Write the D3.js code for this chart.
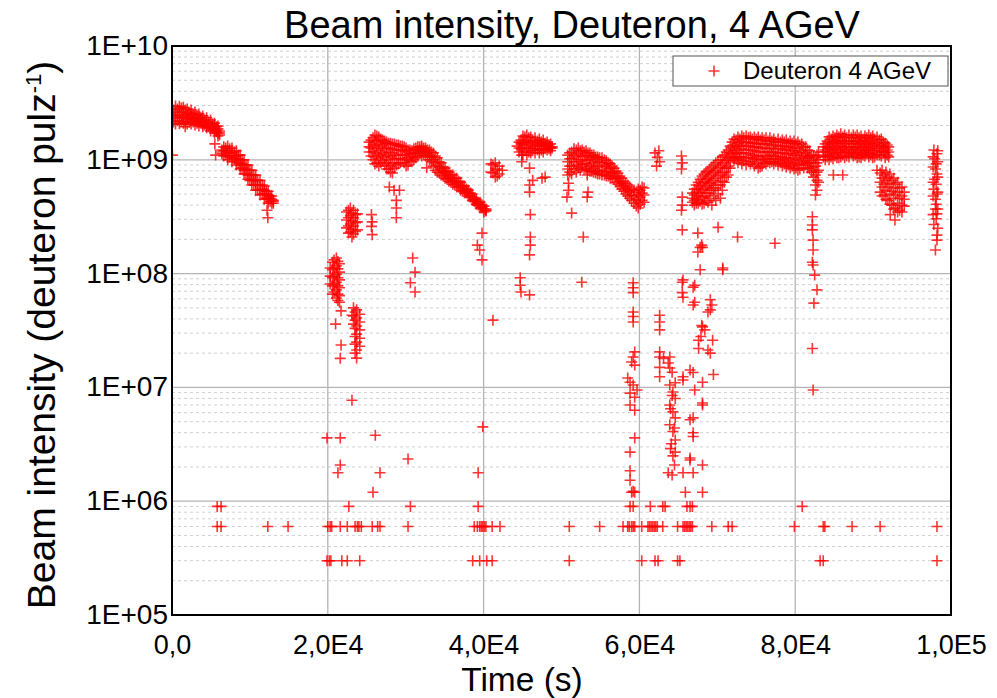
<!DOCTYPE html>
<html>
<head>
<meta charset="utf-8">
<script src="https://cdn.jsdelivr.net/npm/d3@7"></script>
<style>
  body { margin: 0; background: #fff; }
  text { font-family: "Liberation Sans", Arial, sans-serif; fill: #000; }
</style>
</head>
<body>
<svg id="chart" width="997" height="698"></svg>
<script>
// time in ks (x1000 s), intensity in deuterons per pulse
// dense bands: [time, value, value, ...] = one time slice of the band
const spill1 = [
  [0.2, 2.74e9, 2.43e9, 2.15e9], [0.7, 2.8e9, 2.48e9, 2.2e9], [1.2, 2.85e9, 2.45e9, 2.18e9],
  [1.7, 2.74e9, 2.43e9, 2.15e9], [2.2, 2.62e9, 2.38e9, 2.15e9], [2.7, 2.53e9, 2.29e9, 2.15e9],
  [3.2, 2.48e9, 2.24e9, 2.1e9], [3.7, 2.34e9, 2.2e9, 2.1e9], [4.2, 2.24e9, 2.1e9, 2.02e9],
  [4.7, 2.15e9, 2.02e9, 1.95e9], [5.2, 2.06e9, 1.95e9, 1.87e9], [5.7, 1.95e9, 1.83e9, 1.76e9],
  [6.1, 1.79e9, 1.72e9, 1.65e9],
  [0.45, 2.97e9, 2.63e9, 2.34e9, 2.06e9], [0.95, 2.95e9, 2.6e9, 2.35e9, 2.07e9], [1.45, 2.9e9, 2.63e9, 2.34e9, 2.1e9],
  [1.95, 2.8e9, 2.53e9, 2.29e9, 2.06e9], [2.45, 2.74e9, 2.48e9, 2.24e9, 2.06e9], [2.95, 2.63e9, 2.38e9, 2.2e9, 2.02e9],
  [3.45, 2.53e9, 2.34e9, 2.15e9, 1.98e9], [3.95, 2.43e9, 2.24e9, 2.06e9, 1.95e9], [4.45, 2.34e9, 2.15e9, 1.98e9, 1.91e9],
  [4.95, 2.24e9, 2.06e9, 1.91e9, 1.79e9], [5.45, 2.1e9, 1.98e9, 1.83e9, 1.72e9], [5.9, 1.98e9, 1.87e9, 1.72e9, 1.62e9]
]
const spill2 = [
  [6.4, 1.22e9, 1.17e9, 1.13e9], [6.9, 1.27e9, 1.2e9, 1.1e9], [7.4, 1.25e9, 1.15e9, 1.06e9],
  [8.0, 1.17e9, 1.08e9, 1.02e9], [8.5, 1.1e9, 1.02e9, 9.4e8], [9.0, 1.0e9, 9.2e8, 8.45e8],
  [9.5, 9.0e8, 8.3e8, 7.5e8], [10.0, 8.1e8, 7.35e8, 6.6e8], [10.5, 7.35e8, 6.6e8, 6.0e8],
  [11.0, 6.6e8, 6.0e8, 5.4e8], [11.6, 6.0e8, 5.53e8, 5.0e8], [12.1, 5.3e8, 5.0e8, 4.6e8],
  [12.6, 4.8e8, 4.6e8, 4.32e8], [13.0, 4.4e8, 4.32e8, 4.15e8],
  [6.65, 1.3e9, 1.2e9, 1.08e9], [7.15, 1.32e9, 1.2e9, 1.08e9, 1.0e9], [7.7, 1.27e9, 1.15e9, 1.04e9, 9.6e8],
  [8.25, 1.2e9, 1.08e9, 9.8e8, 9.0e8], [8.75, 1.1e9, 1.0e9, 9.0e8, 8.3e8], [9.25, 1.0e9, 9.0e8, 8.1e8, 7.5e8],
  [9.75, 9.0e8, 8.1e8, 7.35e8, 6.75e8], [10.25, 8.1e8, 7.35e8, 6.6e8, 6.0e8], [10.75, 7.35e8, 6.6e8, 6.0e8, 5.4e8],
  [11.3, 6.6e8, 6.0e8, 5.4e8, 4.9e8], [11.85, 5.88e8, 5.4e8, 5.0e8, 4.5e8], [12.35, 5.3e8, 4.9e8, 4.5e8, 4.15e8],
  [12.8, 4.8e8, 4.5e8, 4.15e8]
]
const lowSpillA = [
  [20.3, 1.12e8, 9.5e7, 8.1e7], [20.6, 1.26e8, 1.08e8, 9.2e7, 7.8e7, 6.6e7],
  [21.1, 1.37e8, 1.17e8, 9.9e7, 8.4e7, 7.2e7, 6.1e7], [21.5, 1.22e8, 1.03e8, 8.8e7, 7.5e7, 6.4e7, 5.6e7],
  [20.8, 1.32e8, 1.12e8, 9.5e7, 8.1e7, 6.9e7], [21.3, 1.28e8, 1.1e8, 9.2e7, 7.8e7, 6.6e7, 5.8e7]
]
const lowSpillB = [
  [23.3, 5.0e7, 4.24e7, 3.6e7], [23.7, 4.8e7, 4.07e7, 3.46e7, 2.94e7, 2.5e7, 2.13e7, 1.81e7],
  [24.1, 4.4e7, 3.76e7, 3.2e7, 2.7e7, 2.3e7], [23.5, 4.6e7, 3.9e7, 3.3e7, 2.8e7, 2.4e7, 2.0e7]
]
const midSpill = [
  [22.4, 3.48e8, 2.96e8, 2.52e8], [22.9, 3.77e8, 3.23e8, 2.73e8, 2.32e8],
  [23.3, 3.6e8, 3.1e8, 2.62e8, 2.23e8], [23.8, 3.35e8, 2.85e8, 2.42e8],
  [22.65, 3.6e8, 3.1e8, 2.62e8, 2.27e8], [23.1, 3.4e8, 2.9e8, 2.45e8, 2.1e8], [23.55, 3.3e8, 2.8e8, 2.35e8]
]
const spill3 = [
  [25.3, 1.43e9, 1.3e9, 1.17e9], [25.8, 1.56e9, 1.35e9, 1.17e9, 1.0e9], [26.3, 1.62e9, 1.35e9, 1.13e9, 9.4e8],
  [26.8, 1.52e9, 1.3e9, 1.1e9, 9.4e8], [27.3, 1.46e9, 1.25e9, 1.06e9, 9.0e8], [27.8, 1.4e9, 1.17e9, 1.0e9, 8.3e8],
  [28.3, 1.38e9, 1.15e9, 9.4e8, 7.65e8], [28.8, 1.35e9, 1.1e9, 9.0e8], [29.3, 1.32e9, 1.1e9, 9.4e8],
  [29.8, 1.3e9, 1.1e9, 9.4e8], [30.3, 1.22e9, 1.04e9, 9.0e8], [30.8, 1.2e9, 1.06e9, 9.6e8],
  [31.3, 1.27e9, 1.15e9, 1.04e9], [31.8, 1.3e9, 1.22e9, 1.15e9], [32.3, 1.27e9, 1.2e9, 1.1e9],
  [32.8, 1.22e9, 1.15e9, 1.06e9], [33.3, 1.17e9, 1.06e9, 9.6e8], [33.8, 1.08e9, 9.4e8, 8.1e8],
  [34.3, 9.6e8, 8.65e8, 7.65e8], [34.8, 8.65e8, 7.95e8, 7.2e8], [35.3, 7.95e8, 7.35e8, 6.75e8],
  [35.8, 7.35e8, 6.9e8, 6.35e8], [36.3, 6.9e8, 6.47e8, 6.0e8], [36.8, 6.47e8, 6.1e8, 5.76e8],
  [37.3, 5.88e8, 5.65e8, 5.3e8], [37.8, 5.53e8, 5.3e8, 5.1e8], [38.3, 5.1e8, 4.9e8, 4.7e8],
  [38.8, 4.6e8, 4.5e8, 4.32e8], [39.3, 4.23e8, 4.15e8, 4.0e8], [39.8, 4.0e8, 3.85e8, 3.77e8],
  [40.3, 3.7e8, 3.6e8, 3.55e8],
  [25.55, 1.49e9, 1.27e9, 1.08e9], [26.05, 1.65e9, 1.46e9, 1.25e9, 1.06e9, 9.2e8], [26.55, 1.59e9, 1.4e9, 1.2e9, 1.02e9, 8.8e8],
  [27.05, 1.49e9, 1.35e9, 1.15e9, 9.8e8], [27.55, 1.43e9, 1.27e9, 1.1e9, 9.4e8, 8.3e8], [28.05, 1.4e9, 1.25e9, 1.06e9, 8.8e8, 7.8e8],
  [28.55, 1.38e9, 1.22e9, 1.02e9, 8.45e8], [29.05, 1.35e9, 1.22e9, 1.02e9, 9.2e8], [29.55, 1.32e9, 1.2e9, 1.02e9],
  [30.05, 1.27e9, 1.17e9, 1.0e9, 8.8e8], [30.55, 1.22e9, 1.13e9, 9.8e8], [31.05, 1.25e9, 1.13e9, 1.0e9],
  [31.55, 1.3e9, 1.2e9, 1.08e9], [32.05, 1.32e9, 1.25e9, 1.17e9, 1.08e9], [32.55, 1.27e9, 1.17e9, 1.08e9],
  [33.05, 1.22e9, 1.1e9, 1.0e9], [33.55, 1.15e9, 1.0e9, 8.8e8], [34.05, 1.04e9, 9.0e8, 7.8e8],
  [34.55, 9.4e8, 8.3e8, 7.35e8], [35.05, 8.45e8, 7.65e8, 6.9e8], [35.55, 7.8e8, 7.05e8, 6.47e8],
  [36.05, 7.35e8, 6.6e8, 6.1e8], [36.55, 6.9e8, 6.22e8, 5.76e8], [37.05, 6.35e8, 5.88e8, 5.4e8],
  [37.55, 5.88e8, 5.4e8, 5.1e8], [38.05, 5.4e8, 5.1e8, 4.8e8], [38.55, 5.0e8, 4.7e8, 4.4e8],
  [39.05, 4.5e8, 4.32e8, 4.07e8], [39.55, 4.23e8, 4.0e8, 3.77e8], [40.05, 3.92e8, 3.7e8, 3.48e8]
]
const spill4 = [
  [40.95, 9.2e8, 7.8e8], [41.5, 9.4e8, 8.1e8, 7.05e8], [42.0, 8.8e8, 7.5e8], [42.4, 8.1e8],
  [41.2, 9.0e8, 7.65e8], [41.75, 8.3e8, 7.2e8]
]
const spill5 = [
  [44.3, 1.32e9], [44.8, 1.49e9, 1.38e9, 1.25e9], [45.3, 1.59e9, 1.38e9, 1.2e9],
  [45.8, 1.56e9, 1.35e9, 1.17e9], [46.3, 1.49e9, 1.32e9, 1.2e9], [46.9, 1.46e9, 1.35e9, 1.22e9],
  [47.4, 1.43e9, 1.32e9, 1.22e9], [47.9, 1.4e9, 1.32e9, 1.25e9], [48.4, 1.35e9, 1.3e9, 1.25e9],
  [48.8, 1.3e9, 1.27e9],
  [44.55, 1.43e9, 1.27e9, 1.17e9], [45.05, 1.62e9, 1.43e9, 1.25e9, 1.1e9], [45.55, 1.65e9, 1.46e9, 1.27e9, 1.1e9],
  [46.05, 1.59e9, 1.43e9, 1.27e9, 1.15e9], [46.6, 1.56e9, 1.4e9, 1.25e9, 1.15e9], [47.15, 1.52e9, 1.38e9, 1.25e9, 1.15e9],
  [47.65, 1.49e9, 1.38e9, 1.25e9, 1.17e9], [48.15, 1.43e9, 1.32e9, 1.22e9], [48.6, 1.38e9, 1.27e9, 1.2e9]
]
const spill6 = [
  [50.8, 1.1e9, 9.6e8, 8.3e8, 7.35e8], [51.3, 1.17e9, 1.02e9, 8.8e8, 7.5e8], [51.9, 1.22e9, 1.06e9, 9.0e8, 7.8e8],
  [52.4, 1.2e9, 1.0e9, 8.1e8], [52.9, 1.17e9, 1.0e9, 8.3e8], [53.4, 1.15e9, 9.8e8, 8.1e8],
  [53.9, 1.1e9, 9.4e8, 7.95e8], [54.4, 1.06e9, 9.0e8, 7.65e8], [54.9, 1.04e9, 8.8e8, 7.5e8],
  [55.5, 1.0e9, 8.65e8, 7.35e8], [56.0, 9.4e8, 8.3e8, 7.2e8], [56.5, 8.8e8, 7.8e8, 6.9e8],
  [57.0, 7.95e8, 7.2e8, 6.35e8], [57.5, 7.2e8, 6.47e8, 5.88e8], [58.0, 6.47e8, 5.88e8, 5.3e8],
  [58.5, 6.0e8, 5.4e8, 4.8e8], [59.0, 5.53e8, 4.9e8, 4.4e8], [59.6, 5.2e8, 4.5e8, 3.92e8],
  [60.1, 5.4e8, 4.7e8, 4.07e8], [60.6, 5.65e8, 4.9e8, 4.23e8],
  [51.05, 1.15e9, 1.02e9, 8.8e8, 7.8e8], [51.6, 1.25e9, 1.1e9, 9.6e8, 8.3e8], [52.15, 1.27e9, 1.13e9, 9.6e8, 8.45e8],
  [52.65, 1.22e9, 1.08e9, 9.2e8, 8.65e8], [53.15, 1.2e9, 1.08e9, 9.2e8, 8.3e8], [53.65, 1.15e9, 1.04e9, 8.8e8, 7.95e8],
  [54.15, 1.1e9, 1.0e9, 8.45e8, 7.8e8], [54.65, 1.06e9, 9.6e8, 8.1e8, 7.5e8], [55.2, 1.04e9, 9.4e8, 7.95e8, 7.35e8],
  [55.75, 9.8e8, 9.0e8, 7.8e8, 7.2e8], [56.25, 9.2e8, 8.45e8, 7.5e8, 6.9e8], [56.75, 8.45e8, 7.65e8, 6.75e8],
  [57.25, 7.65e8, 6.9e8, 6.1e8], [57.75, 6.9e8, 6.22e8, 5.53e8], [58.25, 6.22e8, 5.65e8, 5.0e8],
  [58.75, 5.76e8, 5.2e8, 4.6e8], [59.3, 5.4e8, 4.8e8, 4.15e8], [59.85, 5.53e8, 4.9e8, 4.23e8, 3.77e8],
  [60.35, 5.76e8, 5.1e8, 4.4e8]
]
const rampUp = [
  [66.8, 5.1e8, 4.6e8, 4.23e8], [67.3, 6.0e8, 5.2e8, 4.5e8, 4.15e8], [67.8, 6.75e8, 5.88e8, 5.1e8, 4.32e8],
  [68.3, 7.5e8, 6.47e8, 5.65e8, 4.8e8, 4.15e8], [68.8, 7.95e8, 6.9e8, 6.0e8, 5.1e8, 4.23e8],
  [69.3, 8.65e8, 7.5e8, 6.35e8, 5.4e8, 4.0e8], [69.8, 9.4e8, 8.1e8, 6.9e8, 5.65e8, 4.4e8],
  [70.4, 1.0e9, 8.65e8, 7.35e8, 6.0e8, 4.6e8], [70.9, 1.1e9, 9.4e8, 7.8e8, 6.35e8],
  [71.4, 1.22e9, 1.04e9, 8.8e8, 7.35e8],
  [67.05, 5.53e8, 4.9e8, 4.4e8, 4.0e8], [67.55, 6.35e8, 5.53e8, 4.8e8, 4.15e8], [68.05, 7.2e8, 6.22e8, 5.4e8, 4.7e8, 4.07e8],
  [68.55, 7.8e8, 6.75e8, 5.88e8, 5.1e8, 4.4e8], [69.05, 8.3e8, 7.2e8, 6.22e8, 5.4e8, 4.6e8],
  [69.55, 9.0e8, 7.8e8, 6.6e8, 5.65e8, 4.8e8], [70.1, 9.8e8, 8.45e8, 7.2e8, 6.0e8, 5.0e8],
  [70.65, 1.06e9, 9.0e8, 7.65e8, 6.47e8, 5.4e8], [71.15, 1.17e9, 1.0e9, 8.45e8, 7.05e8], [71.65, 1.32e9, 1.15e9, 9.8e8, 8.45e8]
]
const plateau1 = [
  [71.9, 1.43e9, 1.27e9, 1.13e9, 1.04e9], [72.4, 1.49e9, 1.3e9, 1.13e9, 1.02e9], [72.9, 1.52e9, 1.32e9, 1.15e9, 1.0e9],
  [73.4, 1.56e9, 1.35e9, 1.15e9, 9.8e8], [74.0, 1.56e9, 1.32e9, 1.13e9, 9.6e8], [74.5, 1.52e9, 1.3e9, 1.1e9, 9.6e8],
  [75.0, 1.52e9, 1.3e9, 1.08e9, 9.2e8], [75.5, 1.49e9, 1.27e9, 1.06e9, 8.65e8], [76.0, 1.49e9, 1.27e9, 1.08e9, 9.4e8],
  [76.5, 1.46e9, 1.25e9, 1.08e9, 9.6e8], [77.0, 1.46e9, 1.27e9, 1.1e9, 9.6e8], [77.5, 1.43e9, 1.25e9, 1.08e9, 9.6e8],
  [78.1, 1.43e9, 1.25e9, 1.06e9, 9.4e8], [78.6, 1.43e9, 1.22e9, 1.04e9, 9.2e8], [79.1, 1.4e9, 1.22e9, 1.04e9, 9.0e8],
  [79.6, 1.4e9, 1.2e9, 1.02e9, 8.8e8], [80.1, 1.38e9, 1.17e9, 1.0e9, 8.45e8], [80.6, 1.35e9, 1.15e9, 9.8e8, 8.3e8],
  [81.1, 1.3e9, 1.1e9, 9.6e8, 8.45e8], [81.6, 1.22e9, 1.06e9, 9.4e8, 8.45e8], [82.1, 1.1e9, 9.8e8, 8.65e8, 7.8e8],
  [82.6, 1.04e9, 8.8e8, 7.35e8, 6.0e8, 4.9e8], [83.0, 1.17e9, 1.0e9, 8.1e8, 6.35e8],
  [72.15, 1.52e9, 1.35e9, 1.2e9, 1.06e9, 9.8e8], [72.65, 1.59e9, 1.4e9, 1.22e9, 1.06e9, 9.4e8],
  [73.15, 1.62e9, 1.43e9, 1.25e9, 1.06e9, 9.2e8], [73.7, 1.62e9, 1.43e9, 1.22e9, 1.04e9, 9.0e8],
  [74.25, 1.59e9, 1.4e9, 1.22e9, 1.04e9, 9.2e8], [74.75, 1.59e9, 1.4e9, 1.2e9, 1.02e9, 8.8e8],
  [75.25, 1.59e9, 1.38e9, 1.17e9, 1.0e9, 8.45e8], [75.75, 1.56e9, 1.38e9, 1.17e9, 1.0e9, 8.8e8],
  [76.25, 1.56e9, 1.38e9, 1.17e9, 1.02e9, 9.2e8], [76.75, 1.56e9, 1.35e9, 1.17e9, 1.02e9, 9.4e8],
  [77.25, 1.52e9, 1.35e9, 1.17e9, 1.02e9, 9.2e8], [77.8, 1.52e9, 1.32e9, 1.15e9, 1.0e9, 9.0e8],
  [78.35, 1.49e9, 1.32e9, 1.15e9, 1.0e9, 8.8e8], [78.85, 1.49e9, 1.3e9, 1.13e9, 9.8e8, 8.65e8],
  [79.35, 1.46e9, 1.3e9, 1.13e9, 9.6e8, 8.45e8], [79.85, 1.46e9, 1.27e9, 1.1e9, 9.4e8, 8.3e8],
  [80.35, 1.43e9, 1.25e9, 1.08e9, 9.2e8, 8.1e8], [80.85, 1.38e9, 1.2e9, 1.04e9, 9.0e8],
  [81.35, 1.3e9, 1.15e9, 1.02e9, 9.0e8], [81.85, 1.2e9, 1.06e9, 9.4e8, 8.3e8],
  [82.35, 1.08e9, 9.4e8, 8.1e8, 7.05e8], [82.8, 1.1e9, 9.4e8, 7.8e8, 6.6e8, 5.4e8]
]
const plateau2 = [
  [83.6, 1.3e9, 1.17e9, 1.06e9], [84.1, 1.46e9, 1.3e9, 1.17e9, 1.06e9], [84.6, 1.52e9, 1.35e9, 1.2e9, 1.06e9],
  [85.1, 1.56e9, 1.38e9, 1.22e9, 1.08e9], [85.6, 1.59e9, 1.4e9, 1.22e9, 1.04e9], [86.1, 1.59e9, 1.4e9, 1.25e9, 1.1e9],
  [86.6, 1.56e9, 1.38e9, 1.22e9, 1.08e9], [87.2, 1.56e9, 1.38e9, 1.22e9, 1.13e9], [87.7, 1.59e9, 1.4e9, 1.25e9, 1.1e9],
  [88.2, 1.56e9, 1.38e9, 1.22e9, 1.06e9], [88.7, 1.52e9, 1.35e9, 1.2e9, 1.1e9], [89.2, 1.56e9, 1.38e9, 1.22e9, 1.13e9],
  [89.7, 1.56e9, 1.38e9, 1.22e9, 1.1e9], [90.2, 1.52e9, 1.35e9, 1.2e9, 1.06e9], [90.8, 1.49e9, 1.32e9, 1.17e9, 1.1e9],
  [91.3, 1.43e9, 1.3e9, 1.17e9], [91.8, 1.35e9, 1.22e9, 1.1e9],
  [83.85, 1.38e9, 1.22e9, 1.08e9, 1.0e9], [84.35, 1.59e9, 1.4e9, 1.25e9, 1.1e9, 1.0e9],
  [84.85, 1.62e9, 1.43e9, 1.27e9, 1.13e9, 1.02e9], [85.35, 1.65e9, 1.46e9, 1.3e9, 1.15e9, 1.04e9],
  [85.85, 1.69e9, 1.49e9, 1.32e9, 1.17e9, 1.06e9], [86.35, 1.65e9, 1.46e9, 1.3e9, 1.17e9, 1.04e9],
  [86.9, 1.65e9, 1.46e9, 1.3e9, 1.15e9, 1.06e9], [87.45, 1.65e9, 1.46e9, 1.3e9, 1.17e9, 1.08e9],
  [87.95, 1.65e9, 1.46e9, 1.3e9, 1.15e9, 1.04e9], [88.45, 1.62e9, 1.43e9, 1.27e9, 1.13e9, 1.04e9],
  [88.95, 1.62e9, 1.46e9, 1.3e9, 1.17e9, 1.08e9], [89.45, 1.65e9, 1.46e9, 1.3e9, 1.15e9, 1.06e9],
  [89.95, 1.62e9, 1.43e9, 1.27e9, 1.13e9, 1.04e9], [90.5, 1.59e9, 1.4e9, 1.25e9, 1.1e9],
  [91.05, 1.52e9, 1.35e9, 1.2e9, 1.08e9], [91.55, 1.4e9, 1.27e9, 1.15e9, 1.04e9], [92.0, 1.3e9, 1.17e9, 1.06e9]
]
const rampDown = [
  [90.9, 7.65e8, 6.35e8, 5.2e8], [91.4, 7.35e8, 6.1e8, 4.9e8], [91.9, 7.05e8, 5.76e8, 4.4e8],
  [92.4, 6.6e8, 5.3e8, 4.0e8], [92.9, 6.1e8, 4.9e8, 3.77e8], [93.4, 5.65e8, 4.6e8, 3.6e8],
  [94.0, 5.2e8, 4.5e8, 3.92e8],
  [91.15, 8.1e8, 6.9e8, 5.76e8, 4.8e8], [91.65, 7.8e8, 6.6e8, 5.4e8, 4.5e8], [92.15, 7.5e8, 6.22e8, 5.0e8, 4.07e8],
  [92.65, 6.9e8, 5.65e8, 4.6e8, 3.7e8], [93.15, 6.35e8, 5.2e8, 4.15e8, 3.48e8], [93.7, 5.76e8, 4.8e8, 4.0e8, 3.48e8]
]
const lastSpill = [
  [97.8, 1.22e9, 5.53e8, 2.7e8], [98.2, 1.13e9, 7.5e8, 5.0e8, 3.35e8, 2.18e8, 1.97e8], [97.9, 1.02e9, 6.75e8],
  [98.0, 8.3e8, 4.5e8, 3.7e8, 1.61e8], [98.1, 9.2e8, 6.1e8, 4.07e8, 3.03e8],
  [97.7, 1.06e9, 8.65e8, 6.35e8, 4.8e8, 3.3e8], [98.3, 1.2e9, 9.6e8, 7.05e8, 5.2e8, 3.7e8, 2.5e8]
]

// single points: [time, value]
const strayHigh = [
  [0.05, 1.1e9], [1.7, 1.95e9], [5.5, 1.38e9], [5.6, 1.1e9], [12.2, 3.6e8], [12.3, 3.1e8],
  [25.6, 3.3e8], [25.7, 2.85e8], [25.6, 2.6e8], [25.7, 2.2e8],
  [27.9, 5.76e8], [28.5, 5.4e8], [29.2, 5.4e8], [28.8, 4.4e8], [28.8, 3.77e8], [28.8, 3.1e8], [32.7, 8.5e8],
  [39.8, 2.27e8], [39.2, 1.78e8], [39.5, 1.61e8], [39.8, 1.32e8],
  [44.9, 1.1e9], [44.9, 9.6e8], [45.9, 8.45e8], [46.3, 6.6e8], [45.9, 6.0e8], [45.9, 5.2e8], [47.9, 7.05e8],
  [47.5, 6.9e8], [46.0, 3.3e8], [46.0, 2.1e8], [46.0, 1.78e8], [45.9, 1.46e8],
  [50.9, 6.22e8], [50.9, 5.4e8], [50.7, 4.7e8], [51.3, 3.4e8], [52.8, 2.1e8], [53.3, 7.35e8], [53.4, 5.2e8], [53.3, 4.7e8],
  [62.0, 1.15e9], [62.3, 1.05e9], [62.6, 9.6e8], [62.2, 8.8e8], [62.5, 1.2e9],
  [65.4, 1.08e9], [65.5, 9.4e8], [65.4, 8.3e8], [65.5, 4.7e8], [65.5, 4.0e8], [65.4, 3.6e8], [65.5, 2.42e8],
  [67.5, 2.27e8], [68.0, 1.78e8], [70.1, 2.55e8], [72.6, 2.1e8], [77.4, 1.85e8],
  [84.9, 7.35e8], [86.1, 7.35e8], [90.5, 8.1e8], [92.8, 2.96e8], [92.2, 3.3e8],
  [82.2, 3.16e8], [82.2, 2.67e8], [82.2, 2.42e8], [82.3, 1.97e8], [82.3, 1.61e8], [82.2, 1.26e8], [82.3, 1.19e8],
  [82.5, 9.7e7], [82.8, 7.2e7], [82.4, 5.5e7], [82.2, 2.2e7], [82.3, 9.5e6]
]
const strayLow = [
  [21.0, 3.6e7], [21.7, 4.7e7], [21.7, 2.36e7], [21.6, 1.8e7], [23.1, 4.3e7],
  [30.9, 1.37e8], [31.2, 1.03e8], [30.6, 8.3e7], [31.2, 6.9e7], [41.2, 3.9e7],
  [44.7, 9.2e7], [44.7, 7.9e7], [44.8, 6.9e7], [45.9, 6.5e7], [52.6, 8.4e7],
  [19.9, 3.6e6], [21.6, 3.6e6], [26.1, 3.8e6], [23.1, 7.7e6], [21.6, 2.08e6], [21.3, 1.78e6],
  [26.7, 1.78e6], [30.3, 2.35e6], [39.9, 4.5e6], [39.3, 1.78e6]
]
const strayDip = [
  [59.2, 8.3e7], [59.2, 7.5e7], [59.2, 6.8e7], [59.2, 4.6e7], [59.2, 4.2e7], [59.2, 3.76e7],
  [59.4, 2.05e7], [59.2, 1.85e7], [59.0, 1.67e7], [59.4, 1.57e7],
  [58.5, 1.21e7], [58.8, 1.11e7], [59.2, 1.05e7], [59.7, 9.5e6], [58.8, 8.9e6], [59.4, 8.2e6],
  [58.8, 7.0e6], [59.4, 6.3e6], [59.4, 3.6e6], [58.8, 2.7e6], [58.8, 1.85e6], [58.8, 1.53e6], [59.2, 1.22e6],
  [62.6, 4.3e7], [62.6, 3.76e7], [62.6, 3.2e7], [62.6, 2.05e7], [62.6, 1.85e7], [62.6, 1.5e7], [62.6, 1.24e7],
  [63.9, 1.85e7], [63.7, 1.64e7], [63.9, 1.48e7], [64.2, 1.36e7], [63.1, 1.8e7],
  [63.9, 1.05e7], [64.3, 9.1e6], [64.6, 8.0e6], [63.9, 7.0e6], [64.3, 6.1e6], [64.6, 5.4e6], [63.9, 4.7e6],
  [64.3, 4.1e6], [64.6, 3.45e6], [64.0, 2.9e6], [64.3, 2.5e6], [64.5, 2.08e6], [64.2, 1.7e6],
  [64.6, 1.1e7], [64.2, 8.5e6], [64.0, 6.5e6], [64.5, 4.4e6], [64.1, 3.2e6], [64.6, 2.7e6], [63.7, 1.78e6],
  [65.5, 8.4e7], [65.5, 6.8e7], [65.6, 8.8e7], [65.6, 6.2e7], [65.6, 1.24e7], [65.6, 1.16e7], [65.6, 1.78e6],
  [66.5, 1.42e7], [66.5, 5.2e6], [66.5, 2.3e6], [66.5, 2.4e6], [66.9, 3.7e6], [66.9, 7.6e7], [66.9, 5.3e7],
  [66.9, 1.35e7], [66.9, 5.4e6], [66.9, 4.0e6], [66.9, 1.78e6],
  [67.5, 1.55e8], [67.8, 1.08e8], [67.1, 7.9e7], [67.1, 5.6e7], [67.1, 9.5e6], [67.8, 1.7e8], [68.1, 1.7e8],
  [68.0, 3.5e7], [68.4, 3.2e7], [67.9, 2.8e7], [68.8, 2.13e7], [68.1, 3.4e7], [67.6, 2.6e7], [67.6, 2.2e7],
  [69.1, 5.9e7], [69.3, 5.3e7], [68.8, 4.6e7], [69.4, 2.6e7], [69.1, 4.8e7], [69.1, 2.0e7], [69.5, 1.3e7],
  [68.1, 1.11e7], [68.1, 7.3e6], [68.1, 7.0e6], [68.1, 2.08e6], [70.7, 1.12e8], [70.7, 1.08e8]
]

// flat rows of points near the detection floor (times only)
const floor12e5Times = [25.8, 59.0, 59.4, 65.9, 68.1]
const floor9e5Times = [5.8, 6.3, 22.7, 30.6, 39.3, 58.8, 59.2, 61.4, 63.0, 63.3, 66.1, 66.5, 66.8, 80.9]
const floor6e5Times = [
  5.8, 6.3, 12.3, 14.9, 20.0, 20.3, 20.5, 21.6, 22.5, 23.5, 23.8, 24.0, 24.3, 25.7, 26.4, 26.7, 30.3,
  38.8, 39.2, 39.5, 39.7, 39.9, 40.1, 40.3, 41.1, 42.1, 51.0, 54.9, 57.9, 58.5, 58.7, 59.0, 59.2, 59.4,
  60.3, 61.1, 61.3, 61.5, 61.7, 61.9, 62.1, 62.3, 63.0, 64.9, 65.6, 65.8, 66.0, 66.2, 66.4, 66.6, 66.8,
  69.3, 71.4, 71.9, 79.9, 83.6, 83.8, 87.3, 90.9, 98.2
]
const floor3e5Times = [19.9, 20.2, 20.4, 21.8, 22.5, 24.1, 38.6, 39.5, 40.4, 41.1, 51.0, 60.3, 62.0, 62.4, 64.9, 65.2, 83.2, 83.6, 98.2]

const yTicks = [1e5, 1e6, 1e7, 1e8, 1e9, 1e10]
const xTicks = [0, 2e4, 4e4, 6e4, 8e4, 1e5]
const seriesName = 'Deuteron 4 AGeV'

// build point list
const rowsToPoints = rows => rows.flatMap(r => r.slice(1).map(v => ({ t: r[0] * 1000, v: v })))
const floorToPoints = (times, v) => times.map(t => ({ t: t * 1000, v: v }))

const points = [].concat(
  rowsToPoints(spill1), rowsToPoints(spill2), rowsToPoints(lowSpillA), rowsToPoints(lowSpillB),
  rowsToPoints(midSpill), rowsToPoints(spill3), rowsToPoints(spill4), rowsToPoints(spill5),
  rowsToPoints(spill6), rowsToPoints(rampUp), rowsToPoints(plateau1), rowsToPoints(plateau2),
  rowsToPoints(rampDown), rowsToPoints(lastSpill),
  rowsToPoints(strayHigh), rowsToPoints(strayLow), rowsToPoints(strayDip),
  floorToPoints(floor12e5Times, 1.2e6), floorToPoints(floor9e5Times, 9e5),
  floorToPoints(floor6e5Times, 6e5), floorToPoints(floor3e5Times, 3e5)
)

const svg = d3.select('#chart')
const x = d3.scaleLinear().domain([0, 1e5]).range([172, 951])
const y = d3.scaleLog().domain([1e5, 1e10]).range([615, 46])

// minor grid (2..9 in each decade)
const minor = []
yTicks.slice(0, -1).forEach(d => { for (let m = 2; m <= 9; m++) minor.push(d * m) })

const grid = svg.append('g')
grid.selectAll('.minor').data(minor).join('line')
  .attr('x1', x(0)).attr('x2', x(1e5))
  .attr('y1', d => y(d)).attr('y2', d => y(d))
  .attr('stroke', '#d0d0d0').attr('stroke-width', 1).attr('stroke-dasharray', '3,3')
grid.selectAll('.majorY').data(yTicks.slice(1, -1)).join('line')
  .attr('x1', x(0)).attr('x2', x(1e5))
  .attr('y1', d => y(d)).attr('y2', d => y(d))
  .attr('stroke', '#b4b4b4').attr('stroke-width', 1.3)
grid.selectAll('.majorX').data(xTicks.slice(1, -1)).join('line')
  .attr('x1', d => x(d)).attr('x2', d => x(d))
  .attr('y1', y(1e5)).attr('y2', y(1e10))
  .attr('stroke', '#b4b4b4').attr('stroke-width', 1.3)

// data markers
svg.append('clipPath').attr('id', 'plotclip').append('rect')
  .attr('x', x(0)).attr('y', y(1e10)).attr('width', x(1e5) - x(0)).attr('height', y(1e5) - y(1e10))

const plus = 'M-5.5,0H5.5M0,-5.5V5.5'
svg.append('g').attr('clip-path', 'url(#plotclip)')
  .selectAll('path').data(points).join('path')
  .attr('d', plus)
  .attr('transform', d => `translate(${x(d.t)},${y(d.v)})`)
  .attr('fill', 'none')
  .attr('stroke', '#ff0000')
  .attr('stroke-width', 1.6)
  .attr('stroke-opacity', 0.8)

// frame
svg.append('rect')
  .attr('x', x(0)).attr('y', y(1e10)).attr('width', x(1e5) - x(0)).attr('height', y(1e5) - y(1e10))
  .attr('fill', 'none').attr('stroke', '#000').attr('stroke-width', 2)

// axes
const yAxis = svg.append('g').attr('transform', `translate(${x(0)},0)`)
  .call(d3.axisLeft(y).tickValues(yTicks).tickSize(0).tickPadding(4)
    .tickFormat(d => '1E+' + String(Math.round(Math.log10(d))).padStart(2, '0')))
yAxis.select('.domain').remove()
yAxis.selectAll('text').attr('font-size', 28).attr('font-family', '"Liberation Sans", Arial, sans-serif').attr('dy', '0.3em')

const fmtX = d => {
  if (d === 0) return '0,0'
  const e = Math.floor(Math.log10(d))
  return (d / Math.pow(10, e)).toFixed(1).replace('.', ',') + 'E' + e
}
const xAxis = svg.append('g').attr('transform', `translate(0,${y(1e5)})`)
  .call(d3.axisBottom(x).tickValues(xTicks).tickSize(0).tickPadding(19.9).tickFormat(fmtX))
xAxis.select('.domain').remove()
xAxis.selectAll('text').attr('font-size', 27).attr('font-family', '"Liberation Sans", Arial, sans-serif')

// titles
svg.append('text').attr('x', 572).attr('y', 38).attr('text-anchor', 'middle')
  .attr('font-size', 38).text('Beam intensity, Deuteron, 4 AGeV')

svg.append('text').attr('x', 522).attr('y', 690.5).attr('text-anchor', 'middle')
  .attr('font-size', 33.5).text('Time (s)')

const yLabel = svg.append('text').attr('transform', 'translate(55,335) rotate(-90)')
  .attr('text-anchor', 'middle').attr('font-size', 39)
yLabel.append('tspan').text('Beam intensity (deuteron pulz')
yLabel.append('tspan').attr('dy', -14).attr('font-size', 22).text('-1')
yLabel.append('tspan').attr('dy', 14).text(')')

// legend
const legend = svg.append('g')
legend.append('rect').attr('x', 673).attr('y', 56).attr('width', 275).attr('height', 30)
  .attr('fill', '#fff').attr('stroke', '#555').attr('stroke-width', 1)
legend.append('path').attr('d', plus).attr('transform', 'translate(714,71)')
  .attr('fill', 'none').attr('stroke', '#ff0000').attr('stroke-width', 1.6).attr('stroke-opacity', 0.8)
legend.append('text').attr('x', 743).attr('y', 79).attr('font-size', 24).text(seriesName)
</script>
</body>
</html>
